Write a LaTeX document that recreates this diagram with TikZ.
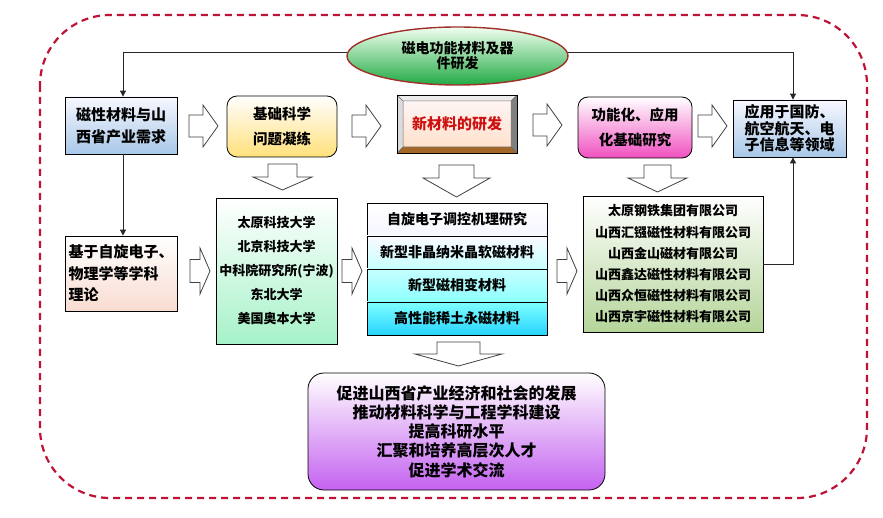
\documentclass[tikz,border=0pt]{standalone}
\usepackage{fontspec}
\setmainfont{Noto Sans CJK SC}
\usetikzlibrary{shapes.geometric,arrows.meta}
\definecolor{frameRed}{HTML}{BE1236}
\definecolor{ellBorder}{HTML}{A0302A}
\definecolor{blueBot}{HTML}{A8C8E8}
\definecolor{yelBot}{HTML}{FFE07A}
\definecolor{magBot}{HTML}{F050C0}
\definecolor{peachBot}{HTML}{F8DCD0}
\definecolor{mintBot}{HTML}{A6F2C8}
\definecolor{oliveBot}{HTML}{B5D59A}
\definecolor{violetBot}{HTML}{C462F0}
\definecolor{greenBot}{HTML}{22AA44}
\definecolor{newRed}{HTML}{CC1111}
\newcommand\myRA[6]{\draw[blockarr] (#1,#2-#5) -- (#1+#3,#2-#5) -- (#1+#3,#2-#6) -- (#1+#4,#2) -- (#1+#3,#2+#6) -- (#1+#3,#2+#5) -- (#1,#2+#5) -- cycle;}
\newcommand\myDA[6]{\draw[blockarr] (#1-#5,#2) -- (#1+#5,#2) -- (#1+#5,#2+#3) -- (#1+#6,#2+#3) -- (#1,#2+#4) -- (#1-#6,#2+#3) -- (#1-#5,#2+#3) -- cycle;}
\begin{document}
\begin{tikzpicture}[x=1pt,y=-1pt,
  box/.style={draw=black, line width=0.8pt, inner sep=0pt, align=center, font=\bfseries\fontsize{15}{22}\selectfont},
  blockarr/.style={draw=black!75, line width=0.8pt, fill=white, line join=miter},
  conn/.style={draw=black!85, line width=0.9pt},
  tip/.style={-{Triangle[length=6pt,width=6pt]}}
]
\useasboundingbox (0,0) rectangle (883,518);
% dashed frame
\draw[frameRed, line width=2.2pt, dash pattern=on 7pt off 5pt, rounded corners=70pt] (40,15) rectangle (867,498);

% ellipse
\node[ellipse, draw=ellBorder, line width=1.4pt, top color=green!6, bottom color=greenBot, minimum width=221pt, minimum height=58pt, inner sep=0pt, align=center, font=\bfseries\fontsize{14}{15}\selectfont] (ell) at (457.5,56) {磁电功能材料及器\\件研发};

% top row
\node[box, minimum width=112pt, minimum height=57pt, top color=blue!3, bottom color=blueBot, align=left] (b1) at (121,125.5) {磁性材料与山\\西省产业需求};
\node[box, rounded corners=10pt, minimum width=110pt, minimum height=61pt, top color=white, bottom color=yelBot, font=\bfseries\fontsize{14.5}{25}\selectfont] (b2) at (282,126.5) {基础科学\\问题凝练};

% bevel box
\fill[black!8!white] (397,95) -- (517,95) -- (511,101) -- (403,101) -- cycle;
\fill[black!14!white] (397,95) -- (403,101) -- (403,147) -- (397,153) -- cycle;
\fill[black!50!white] (517,95) -- (517,153) -- (511,147) -- (511,101) -- cycle;
\fill[brown!80!orange!80!black] (397,153) -- (517,153) -- (511,147) -- (403,147) -- cycle;
\shade[top color=red!4!white, bottom color=red!18!orange!20!white] (403,101) rectangle (511,147);
\draw[black!60, line width=0.5pt] (397,95) -- (403,101) (517,95) -- (511,101) (517,153) -- (511,147) (397,153) -- (403,147) (403,101) rectangle (511,147);
\node[draw=black, line width=0.8pt, minimum width=120pt, minimum height=58pt, inner sep=0pt, text=newRed, font=\bfseries\fontsize{15}{17}\selectfont] (b3) at (457,124) {新材料的研发};

\node[box, rounded corners=10pt, minimum width=114pt, minimum height=61pt, top color=white, bottom color=magBot, font=\bfseries\fontsize{14.5}{25}\selectfont] (b4) at (635,127.5) {功能化、应用\\化基础研究};
\node[box, minimum width=113pt, minimum height=57pt, top color=blue!3, bottom color=blueBot, align=left, font=\bfseries\fontsize{15}{16.5}\selectfont] (b5) at (789.5,128.5) {应用于国防、\\航空航天、电\\子信息等领域};

% second row
\node[box, minimum width=112pt, minimum height=75pt, top color=white, bottom color=peachBot, align=left, font=\bfseries\fontsize{15}{21.5}\selectfont] (b6) at (121,273.5) {基于自旋电子、\\物理学等学科\\理论};
\node[box, minimum width=121pt, minimum height=146pt, top color=white, bottom color=mintBot, font=\bfseries\fontsize{13}{24}\selectfont] (uni) at (276.5,271) {太原科技大学\\北京科技大学\\中科院研究所(宁波)\\东北大学\\美国奥本大学};

\node[box, minimum width=180pt, minimum height=33pt, top color=white, bottom color=blue!4!white, font=\bfseries\fontsize{14}{16}\selectfont] (l1) at (457,219.5) {自旋电子调控机理研究};
\node[box, minimum width=180pt, minimum height=33pt, top color=blue!2!white, bottom color=cyan!22!white, font=\bfseries\fontsize{14}{16}\selectfont] (l2) at (457,252.5) {新型非晶纳米晶软磁材料};
\node[box, minimum width=180pt, minimum height=33pt, top color=cyan!22!white, bottom color=cyan!45!white, font=\bfseries\fontsize{14}{16}\selectfont] (l3) at (457,285.5) {新型磁相变材料};
\node[box, minimum width=180pt, minimum height=33pt, top color=cyan!50!white, bottom color=cyan!80!blue!85!white, font=\bfseries\fontsize{14}{16}\selectfont] (l4) at (457,318.5) {高性能稀土永磁材料};

\node[box, minimum width=180pt, minimum height=136pt, top color=white, bottom color=oliveBot, font=\bfseries\fontsize{13}{21.2}\selectfont] (comp) at (673,264) {太原钢铁集团有限公司\\山西汇镪磁性材料有限公司\\山西金山磁材有限公司\\山西鑫达磁性材料有限公司\\山西众恒磁性材料有限公司\\山西京宇磁性材料有限公司};

% bottom
\node[box, rounded corners=16pt, minimum width=297pt, minimum height=117pt, top color=white, bottom color=violetBot, font=\bfseries\fontsize{16}{19.3}\selectfont] (bot) at (456.5,431.5) {促进山西省产业经济和社会的发展\\推动材料科学与工程学科建设\\提高科研水平\\汇聚和培养高层次人才\\促进学术交流};

% block arrows
\myRA{189}{126}{14}{29}{11}{21}
\myRA{352}{126}{14}{29}{11}{21}
\myRA{533}{125}{14}{29}{11}{21}
\myRA{698}{126}{14}{29}{11}{21}
\myRA{190}{271}{10}{20}{11.5}{23}
\myRA{342}{271}{10}{20}{11.5}{23}
\myRA{557}{271}{10}{20}{11.5}{23}
\myDA{282.5}{164}{13}{26}{14.5}{29.5}
\myDA{456.5}{165}{13}{32}{17.5}{33.5}
\myDA{657.5}{165}{13}{27}{13.5}{29.5}
\myDA{458.5}{342}{12}{24}{21.5}{43.5}

% connectors
\coordinate (b1top) at ([xshift=2pt]b1.north);
\coordinate (b5top) at ([xshift=3.5pt]b5.north);
\coordinate (b5bot) at ([xshift=3.5pt]b5.south);
\draw[conn, tip] (ell.178) -| (b1top);
\draw[conn, tip] (ell.2) -| (b5top);
\draw[conn, tip] ([xshift=2pt]b1.south) -- ([xshift=2pt]b6.north);
\draw[conn, tip] (comp.east) -| (b5bot);
\end{tikzpicture}
\end{document}
